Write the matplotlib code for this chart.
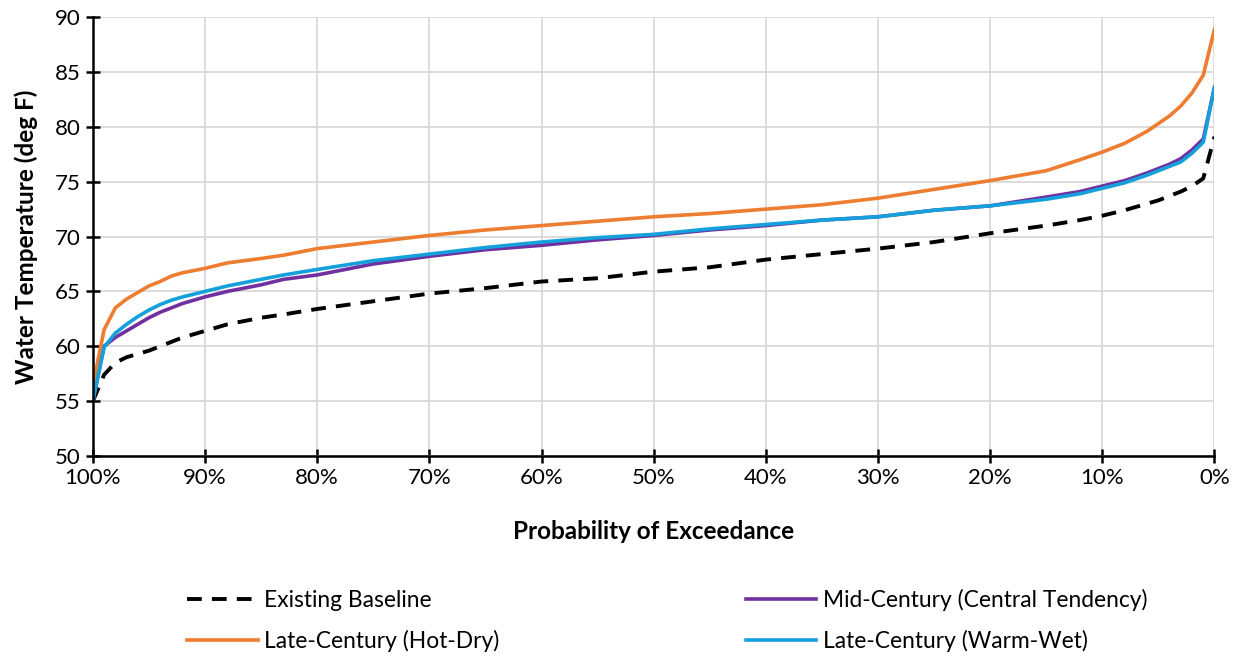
import matplotlib.pyplot as plt
from matplotlib.ticker import FuncFormatter

# probability of exceedance (%) and water temperature (deg F)
exceed = [100, 99, 98, 97, 96, 95, 94, 93, 92, 90, 88, 85, 83, 80, 75, 70, 65, 60, 55,
          50, 45, 40, 35, 30, 25, 20, 15, 12, 10, 8, 6, 5, 4, 3, 2, 1, 0]

baseline = [55.0, 57.4, 58.5, 59.0, 59.3, 59.6, 60.0, 60.4, 60.8, 61.4, 62.0, 62.6, 62.9,
            63.4, 64.1, 64.8, 65.3, 65.9, 66.2, 66.8, 67.2, 67.9, 68.4, 68.9, 69.5, 70.3,
            71.0, 71.5, 71.9, 72.4, 73.0, 73.3, 73.7, 74.1, 74.6, 75.3, 79.1]
mid_century = [55.0, 60.0, 60.8, 61.4, 62.0, 62.6, 63.1, 63.5, 63.9, 64.5, 65.0, 65.6, 66.1,
               66.5, 67.5, 68.2, 68.8, 69.2, 69.7, 70.1, 70.6, 71.0, 71.5, 71.8, 72.4, 72.8,
               73.6, 74.1, 74.6, 75.1, 75.8, 76.2, 76.6, 77.1, 77.9, 78.9, 83.6]
hot_dry = [56.4, 61.5, 63.5, 64.3, 64.9, 65.5, 65.9, 66.4, 66.7, 67.1, 67.6, 68.0, 68.3,
           68.9, 69.5, 70.1, 70.6, 71.0, 71.4, 71.8, 72.1, 72.5, 72.9, 73.5, 74.3, 75.1,
           76.0, 77.0, 77.7, 78.5, 79.6, 80.3, 81.0, 81.9, 83.1, 84.7, 88.9]
warm_wet = [55.0, 59.9, 61.2, 62.0, 62.7, 63.3, 63.8, 64.2, 64.5, 65.0, 65.5, 66.1, 66.5,
            67.0, 67.8, 68.4, 69.0, 69.5, 69.9, 70.2, 70.7, 71.1, 71.5, 71.8, 72.4, 72.8,
            73.4, 73.9, 74.4, 74.9, 75.6, 76.0, 76.4, 76.8, 77.6, 78.6, 83.6]

plt.rcParams['font.family'] = ['Lato', 'DejaVu Sans']

fig = plt.figure(figsize=(12.38, 6.58), dpi=100)
ax = fig.add_axes([0.075, 0.307, 0.906, 0.667])

l1, = ax.plot(exceed, baseline, color='black', lw=2.8, linestyle=(0, (3.8, 2.6)),
              label='Existing Baseline', zorder=3)
l2, = ax.plot(exceed, mid_century, color='#7030A0', lw=2.6,
              label='Mid-Century (Central Tendency)', zorder=3)
l3, = ax.plot(exceed, hot_dry, color='#ED7D31', lw=2.6,
              label='Late-Century (Hot-Dry)', zorder=3)
l4, = ax.plot(exceed, warm_wet, color='#14A0DA', lw=2.6,
              label='Late-Century (Warm-Wet)', zorder=3)

ax.set_xlim(100, 0)
ax.set_ylim(50, 90)
ax.set_xticks(range(100, -1, -10))
ax.set_yticks(range(50, 91, 5))
ax.xaxis.set_major_formatter(FuncFormatter(lambda v, p: f'{int(v)}%'))
ax.grid(True, color='#D9D9D9', lw=1.3)
ax.set_axisbelow(True)
for s in ['top', 'right']:
    ax.spines[s].set_visible(False)
for s in ['left', 'bottom']:
    ax.spines[s].set_linewidth(1.8)
    ax.spines[s].set_zorder(4)
ax.tick_params(direction='inout', length=10, width=1.8, labelsize=16, pad=4)

ax.set_xlabel('Probability of Exceedance', fontsize=17.5, fontweight='bold', labelpad=23)
ax.set_ylabel('Water Temperature (deg F)', fontsize=17.5, fontweight='bold', labelpad=12)

fig.legend(handles=[l1, l3, l2, l4], loc='center', bbox_to_anchor=(0.539, 0.057), ncol=2,
           frameon=False, fontsize=16.4, handlelength=3.1, columnspacing=10.8,
           labelspacing=0.8, handletextpad=0.3)

fig.savefig('out.png', dpi=100)
